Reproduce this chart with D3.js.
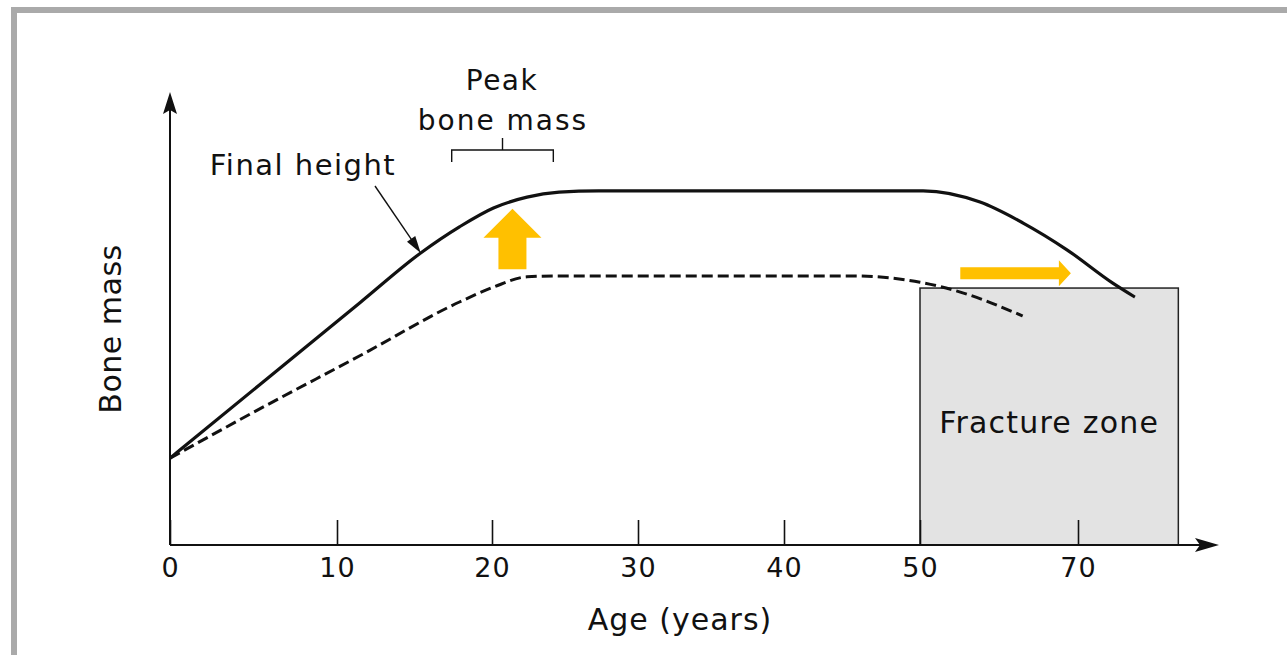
<!DOCTYPE html>
<html>
<head>
<meta charset="utf-8">
<script src="https://cdn.jsdelivr.net/npm/d3@7"></script>
<style>
  body { margin: 0; background: #fff; }
  text { font-family: "DejaVu Sans", sans-serif; fill: #111; }
</style>
</head>
<body>
<div id="chart"></div>
<script>
// labelled ages on the x axis (the drawing jumps from 50 straight to 70)
var tickAges = [0, 10, 20, 30, 40, 50, 70];

// higher peak bone mass (solid line)
var highAges = [0, 5.5, 11.5, 15.4, 17.9, 20.1, 22.4, 24.6, 27.3, 50.4, 57.6, 63.0, 68.6, 74.4, 77.2];
var highMass = [19.3, 36.0, 53.9, 64.9, 70.7, 74.9, 77.3, 78.4, 78.7, 78.7, 76.2, 71.6, 65.6, 58.2, 55.1];

// lower peak bone mass (dashed line)
var lowAges = [0, 5.4, 11.5, 17.9, 20.1, 22.4, 24.6, 45, 50, 55.1, 63.0];
var lowMass = [19.3, 30.3, 42.1, 54.0, 57.3, 59.6, 59.8, 59.8, 58.4, 56.2, 50.9];

// annotations
var finalHeightAge = 15.4;
var peakAges = [17.4, 24.2];
var fractureAges = [50, 82.7];
var fractureMass = 57.1;
var upArrow = [21.4, 61.3, 74.7];     // age, mass from, mass to
var rightArrow = [55.1, 69.1, 60.4];  // age from, age to, mass

var width = 1287, height = 655;

var svg = d3.select("#chart").append("svg")
    .attr("width", width)
    .attr("height", height);

// hand drawn axis: spacing is not quite even
var x = d3.scaleLinear().domain(tickAges).range([170, 337, 492, 638, 784, 920, 1078]);
var y = d3.scaleLinear().domain([0, 100]).range([545, 95]);

// grey frame round the figure
svg.append("rect")
    .attr("x", 14).attr("y", 10)
    .attr("width", 1300).attr("height", 700)
    .attr("fill", "none")
    .attr("stroke", "#aaaaaa")
    .attr("stroke-width", 6);

// fracture zone box
svg.append("rect")
    .attr("x", x(fractureAges[0]))
    .attr("y", y(fractureMass))
    .attr("width", x(fractureAges[1]) - x(fractureAges[0]))
    .attr("height", y(0) - y(fractureMass))
    .attr("fill", "#e3e3e3")
    .attr("stroke", "#222")
    .attr("stroke-width", 1.5);

svg.append("text")
    .attr("x", (x(fractureAges[0]) + x(fractureAges[1])) / 2)
    .attr("y", 433)
    .attr("text-anchor", "middle")
    .attr("font-size", 30)
    .attr("letter-spacing", 1.2)
    .text("Fracture zone");

// x axis ticks and labels
var xAxis = svg.append("g")
    .attr("transform", "translate(0," + y(0) + ")")
    .call(d3.axisBottom(x)
        .tickValues(tickAges)
        .tickSizeInner(-25)
        .tickSizeOuter(0)
        .tickPadding(13)
        .tickFormat(d3.format("d")));
xAxis.select(".domain").remove();
xAxis.attr("font-size", 27);
xAxis.selectAll(".tick line").attr("stroke", "#111").attr("stroke-width", 1.6);
xAxis.selectAll(".tick text").attr("fill", "#111").attr("letter-spacing", 1);

// axis lines with arrow heads
svg.append("line")
    .attr("x1", x(0)).attr("y1", y(0))
    .attr("x2", 1202).attr("y2", y(0))
    .attr("stroke", "#111").attr("stroke-width", 2);
svg.append("path")
    .attr("d", "M1195,538 L1219,545 L1195,552 L1200,545 Z")
    .attr("fill", "#111");

svg.append("line")
    .attr("x1", x(0)).attr("y1", y(0))
    .attr("x2", x(0)).attr("y2", 108)
    .attr("stroke", "#111").attr("stroke-width", 2);
svg.append("path")
    .attr("d", "M163,114 L170,92 L177,114 L170,110 Z")
    .attr("fill", "#111");

// axis titles
svg.append("text")
    .attr("x", 680).attr("y", 630)
    .attr("text-anchor", "middle")
    .attr("font-size", 30)
    .attr("letter-spacing", 1)
    .text("Age (years)");

svg.append("text")
    .attr("transform", "translate(121,329) rotate(-90)")
    .attr("text-anchor", "middle")
    .attr("font-size", 30)
    .attr("letter-spacing", 0.5)
    .text("Bone mass");

// curves
var line = d3.line()
    .x(function (d) { return x(d[0]); })
    .y(function (d) { return y(d[1]); })
    .curve(d3.curveMonotoneX);

var highData = highAges.map(function (a, i) { return [a, highMass[i]]; });
var lowData = lowAges.map(function (a, i) { return [a, lowMass[i]]; });

svg.append("path")
    .datum(lowData)
    .attr("d", line)
    .attr("fill", "none")
    .attr("stroke", "#111")
    .attr("stroke-width", 3)
    .attr("stroke-dasharray", "11,5");

svg.append("path")
    .datum(highData)
    .attr("d", line)
    .attr("fill", "none")
    .attr("stroke", "#111")
    .attr("stroke-width", 3.2);

// "Final height" label with pointer to the solid curve
var tipX = x(finalHeightAge),
    tipY = y(highMass[highAges.indexOf(finalHeightAge)]);
var sx = 375, sy = 186;
var len = Math.hypot(tipX - sx, tipY - sy),
    ux = (tipX - sx) / len, uy = (tipY - sy) / len;
svg.append("line")
    .attr("x1", sx).attr("y1", sy)
    .attr("x2", tipX - ux * 12).attr("y2", tipY - uy * 12)
    .attr("stroke", "#111").attr("stroke-width", 1.4);
svg.append("path")
    .attr("d", "M" + tipX + "," + tipY +
        " L" + (tipX - ux * 17 - uy * 5) + "," + (tipY - uy * 17 + ux * 5) +
        " L" + (tipX - ux * 17 + uy * 5) + "," + (tipY - uy * 17 - ux * 5) + " Z")
    .attr("fill", "#111");
svg.append("text")
    .attr("x", 303).attr("y", 175)
    .attr("text-anchor", "middle")
    .attr("font-size", 29)
    .attr("letter-spacing", 1.5)
    .text("Final height");

// peak bone mass bracket
var bx0 = x(peakAges[0]), bx1 = x(peakAges[1]), bmid = (bx0 + bx1) / 2;
svg.append("path")
    .attr("d", "M" + bx0 + ",162 L" + bx0 + ",150 L" + bx1 + ",150 L" + bx1 + ",162" +
        " M" + bmid + ",150 L" + bmid + ",138")
    .attr("fill", "none")
    .attr("stroke", "#111")
    .attr("stroke-width", 1.4);
svg.append("text")
    .attr("x", 502).attr("y", 90)
    .attr("text-anchor", "middle")
    .attr("font-size", 28)
    .attr("letter-spacing", 1.5)
    .text("Peak");
svg.append("text")
    .attr("x", 503).attr("y", 130)
    .attr("text-anchor", "middle")
    .attr("font-size", 28)
    .attr("letter-spacing", 2)
    .text("bone mass");

// orange arrows
var orange = "#ffc000";
var ax = x(upArrow[0]), ay0 = y(upArrow[1]), ay1 = y(upArrow[2]);
svg.append("path")
    .attr("d", "M" + (ax - 14) + "," + ay0 +
        " L" + (ax - 14) + "," + (ay1 + 29) +
        " L" + (ax - 29) + "," + (ay1 + 29) +
        " L" + ax + "," + ay1 +
        " L" + (ax + 29) + "," + (ay1 + 29) +
        " L" + (ax + 14) + "," + (ay1 + 29) +
        " L" + (ax + 14) + "," + ay0 + " Z")
    .attr("fill", orange);

var rx0 = x(rightArrow[0]), rx1 = x(rightArrow[1]), ry = y(rightArrow[2]);
svg.append("path")
    .attr("d", "M" + rx0 + "," + (ry - 6) +
        " L" + (rx1 - 12) + "," + (ry - 6) +
        " L" + (rx1 - 12) + "," + (ry - 13) +
        " L" + rx1 + "," + ry +
        " L" + (rx1 - 12) + "," + (ry + 13) +
        " L" + (rx1 - 12) + "," + (ry + 6) +
        " L" + rx0 + "," + (ry + 6) + " Z")
    .attr("fill", orange);
</script>
</body>
</html>
